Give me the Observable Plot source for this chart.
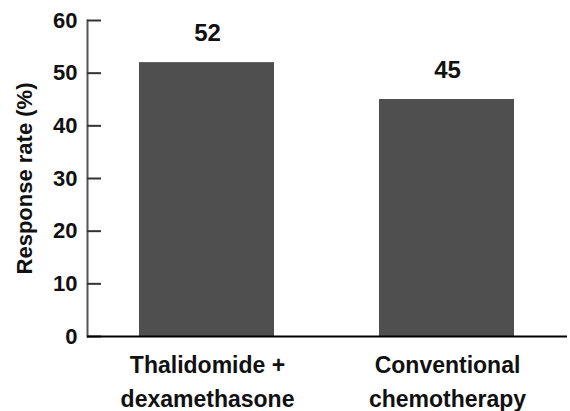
<!DOCTYPE html>
<html><head><meta charset="utf-8">
<script src="https://cdn.jsdelivr.net/npm/d3@7"></script>
<script src="https://cdn.jsdelivr.net/npm/@observablehq/plot@0.6"></script>
<style>body{margin:0;background:#fff}</style>
</head><body><div id="chart"></div>
<script>
const categories = ["Thalidomide +\ndexamethasone", "Conventional\nchemotherapy"];
const responseRates = [52, 45];
const yTicks = [0, 10, 20, 30, 40, 50, 60];
const yTitle = "Response rate (%)";

const data = categories.map((c, i) => ({category: c, rate: responseRates[i]}));
const font = "'Liberation Sans', Arial, sans-serif";

const chart = Plot.plot({
  width: 570, height: 411,
  marginLeft: 87, marginRight: 3, marginTop: 20, marginBottom: 75,
  style: {background: "#fff", color: "#000", fontFamily: font},
  x: {domain: categories, padding: 0, axis: null},
  y: {domain: [0, 60], axis: null},
  marks: [
    Plot.barY(data, {x: "category", y: "rate", fill: "#4f4f4f", insetLeft: 52, insetRight: 53}),
    Plot.text(data, {x: "category", y: "rate", text: d => String(d.rate), dy: -29, fontSize: 24, fontWeight: "bold", fill: "#111"}),
    Plot.frame({anchor: "left", stroke: "#555", strokeWidth: 2}),
    Plot.axisY({ticks: yTicks, tickSize: -14, fill: "none", stroke: "#333", strokeWidth: 2}),
    Plot.axisY({ticks: yTicks, tickSize: 0, tickPadding: 10, fontSize: 22, fontWeight: "bold", fill: "#111", label: null}),
    Plot.ruleY([0], {stroke: "#000", strokeWidth: 2}),
    Plot.axisX({tickSize: 0, tickPadding: 13, fontSize: 23, fontWeight: "bold", lineHeight: 1.45, fill: "#111", label: null}),
    Plot.text([yTitle], {frameAnchor: "left", textAnchor: "middle", rotate: -90, dx: -63, fontSize: 22, fontWeight: "bold", fill: "#111"})
  ]
});
document.getElementById("chart").appendChild(chart);
</script>
</body></html>
